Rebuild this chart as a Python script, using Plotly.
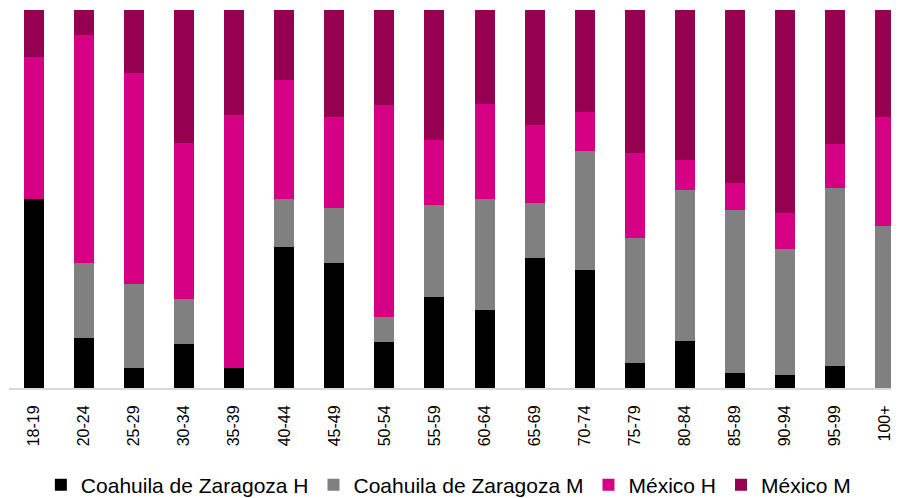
import plotly.graph_objects as go

categories = ["18-19", "20-24", "25-29", "30-34", "35-39", "40-44", "45-49", "50-54", "55-59",
              "60-64", "65-69", "70-74", "75-79", "80-84", "85-89", "90-94", "95-99", "100+"]

coah_h = [49.9, 13.2, 5.2, 11.7, 5.3, 37.2, 33.1, 12.3, 24.0, 20.7, 34.4, 31.1, 6.6, 12.4, 4.0, 3.4, 5.7, 0.0]
coah_m = [0.0, 20.0, 22.4, 11.8, 0.0, 12.7, 14.5, 6.4, 24.4, 29.3, 14.6, 31.5, 33.0, 39.9, 43.2, 33.5, 47.1, 42.8]
mex_h = [37.7, 60.2, 55.7, 41.2, 66.8, 31.4, 24.0, 56.3, 17.1, 25.1, 20.6, 10.3, 22.5, 7.9, 7.1, 9.3, 11.8, 28.8]
mex_m = [12.4, 6.6, 16.7, 35.3, 27.9, 18.6, 28.4, 25.0, 34.5, 25.0, 30.4, 27.1, 37.9, 39.7, 45.8, 53.8, 35.3, 28.4]

series = [
    ("Coahuila de Zaragoza H", coah_h, "#000000"),
    ("Coahuila de Zaragoza M", coah_m, "#808080"),
    ("México H", mex_h, "#D60084"),
    ("México M", mex_m, "#960050"),
]

fig = go.Figure()
for name, vals, color in series:
    fig.add_trace(go.Bar(
        x=categories, y=vals, name=name,
        marker=dict(color=color, line=dict(width=0)),
    ))

fig.update_layout(
    barmode="stack",
    barnorm="percent",
    bargap=0.6,
    width=891, height=490,
    margin=dict(l=1, r=0, t=2, b=110, autoexpand=False),
    plot_bgcolor="white",
    paper_bgcolor="white",
    font=dict(family="Liberation Sans, Arial, sans-serif", color="#000000"),
    showlegend=True,
    legend=dict(
        orientation="h",
        x=0.0358, xanchor="left",
        y=-0.2566, yanchor="middle",
        font=dict(size=21, color="#000000"),
        traceorder="normal",
        itemsizing="constant",
    ),
)
fig.update_xaxes(
    type="category",
    range=[-0.5, 17.28],
    showline=True, linecolor="#D9D9D9", linewidth=2,
    showgrid=False, ticks="",
    tickangle=-90,
    tickfont=dict(size=16, color="#000000"),
    ticklabelstandoff=9,
    automargin=False,
)
fig.update_yaxes(
    range=[0, 100],
    showgrid=False, showline=False, showticklabels=False, zeroline=False,
)

fig.write_html("out.html")
